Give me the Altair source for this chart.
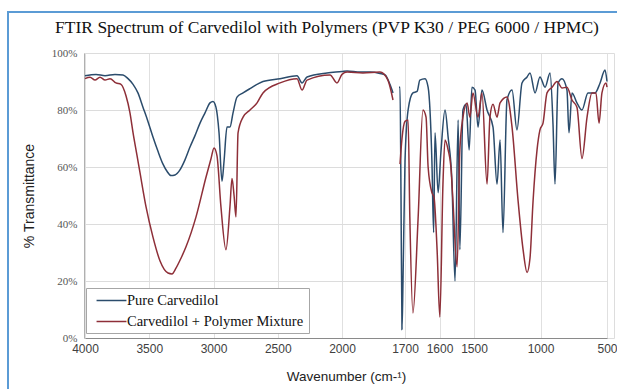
import altair as alt
import pandas as pd

PURE = "Pure Carvedilol"
MIX = "Carvedilol + Polymer Mixture"

# Left panel (4000 -> 1800 cm-1)
pure_left_wn = [4000, 3914, 3844, 3767, 3704, 3665, 3626, 3588, 3549, 3510, 3471, 3432, 3393, 3362, 3331,
                3300, 3261, 3222, 3183, 3144, 3105, 3066, 3027, 3004, 2981, 2957, 2934, 2918, 2895, 2872,
                2848, 2817, 2770, 2716, 2615, 2482, 2350, 2311, 2272, 2117, 2000, 1980, 1929, 1890, 1851,
                1831, 1812, 1800]
pure_left_t = [92, 92.5, 92, 92.5, 92.3, 91, 89, 86, 81, 76, 70.5, 65.5, 61, 58.5, 57,
               57.2, 59, 62.5, 67, 71, 75.4, 79, 82.5, 83, 81, 72, 55, 62, 74, 74,
               79, 84.5, 86, 87.5, 90, 91, 92, 89.5, 91.6, 93, 93.5, 93.7, 93.3, 93.3, 92.8,
               92.3, 89, 86]

mix_left_wn = [4000, 3961, 3922, 3883, 3844, 3805, 3759, 3720, 3681, 3650, 3626, 3595, 3572, 3525, 3471,
               3416, 3354, 3323, 3292, 3253, 3214, 3136, 3058, 3019, 2996, 2973, 2942, 2903, 2872, 2856,
               2840, 2825, 2809, 2770, 2716, 2661, 2615, 2482, 2350, 2311, 2272, 2093, 2039, 2000, 1980,
               1918, 1851, 1820, 1800]
mix_left_t = [91, 91.5, 90.5, 91.5, 90.5, 91, 89.5, 89, 85, 79, 72, 64, 58, 46, 35.4,
              27, 22.8, 22.5, 24.5, 28, 32, 42.5, 56.5, 63, 66.7, 64, 46, 31, 46, 56,
              50, 42.5, 72, 77.5, 80, 82.5, 86, 89.5, 91, 87, 90.5, 92.3, 89.5, 92.5, 93.3,
              93, 93.3, 90.5, 83.5]

# Right panel (1760 -> 500 cm-1)
pure_right_wn = [1760, 1750, 1740, 1730, 1720, 1700, 1691, 1677, 1665, 1657, 1642, 1633, 1622, 1617, 1613,
                 1604, 1596, 1584, 1575, 1564, 1555, 1546, 1541, 1532, 1523, 1514, 1506, 1492, 1470, 1440,
                 1402, 1357, 1327, 1304, 1282, 1252, 1214, 1177, 1139, 1101, 1079, 1041, 1004, 966, 928,
                 906, 891, 868, 838, 801, 786, 763, 726, 688, 643, 590, 552, 515, 500]
pure_right_t = [88, 88, 50, 3, 20, 62, 80, 86, 86.5, 90.5, 91, 88, 62, 37, 72,
                51, 65, 80, 70.5, 55, 20, 76.5, 31, 80, 82, 66, 88, 87, 74, 87,
                80, 74, 54, 69.5, 37, 83.5, 87, 73, 89.5, 91.6, 93, 86, 91.6, 88, 93,
                75, 54, 89.5, 91, 87, 72, 86, 82.5, 80, 86, 86, 89.5, 94, 90]

mix_right_wn = [1750, 1730, 1700, 1691, 1686, 1677, 1662, 1648, 1639, 1633, 1622, 1616, 1607, 1599, 1590,
                1584, 1575, 1567, 1561, 1549, 1541, 1532, 1520, 1512, 1503, 1470, 1440, 1402, 1380, 1357,
                1327, 1304, 1252, 1214, 1169, 1131, 1101, 1079, 1056, 1026, 1004, 981, 951, 913, 876,
                838, 801, 763, 726, 688, 650, 613, 583, 560, 538, 508, 500]
mix_right_t = [61, 70, 76, 76.5, 42.5, 8.8, 42, 80, 77.5, 60, 51, 49.5, 31, 7.4, 54,
               69.5, 66, 60, 48, 25, 66, 77.5, 82.5, 77.5, 86, 77.5, 86, 54, 77.5, 82,
               77.5, 82.5, 84.6, 74, 48.4, 31, 23, 28, 48, 66, 73, 75.4, 86, 88, 90,
               87.7, 88, 83.5, 81, 63, 77.5, 86, 86, 75.4, 86, 89.5, 88]

x_ticks = [4000, 3500, 3000, 2500, 2000, 1700, 1600, 1500, 1000, 500]
y_ticks = [0, 20, 40, 60, 80, 100]

rows = []
for wns, ts, s, seg in [(pure_left_wn, pure_left_t, PURE, "pL"), (pure_right_wn, pure_right_t, PURE, "pR"),
                        (mix_left_wn, mix_left_t, MIX, "mL"), (mix_right_wn, mix_right_t, MIX, "mR")]:
    for w, t in zip(wns, ts):
        rows.append({"wn": w, "t": t, "series": s, "seg": seg})
df = pd.DataFrame(rows)

x_scale = alt.Scale(domain=[4000, 2000, 1800, 1760, 1700, 1500, 500],
                    range=[1, 258, 309, 315, 321, 390, 523], nice=False, zero=False)

lines = alt.Chart(df).mark_line(strokeWidth=1.5, clip=True, interpolate="monotone").encode(
    x=alt.X("wn:Q", scale=x_scale,
            axis=alt.Axis(values=x_ticks, format="d", title="Wavenumber (cm-¹)",
                          labelFont="Liberation Sans", labelFontSize=12, labelColor="#404040",
                          labelPadding=5, ticks=False, domainColor="#8a8a8a", gridColor="#e0e0e0",
                          labelFlush=False,
                          titleFont="Liberation Sans", titleFontSize=13.5, titleFontWeight="normal",
                          titleColor="#222", titlePadding=15, labelOverlap=False)),
    y=alt.Y("t:Q", scale=alt.Scale(domain=[0, 100], nice=False),
            axis=alt.Axis(values=y_ticks, labelExpr="datum.value + '%'", title="% Transmittance",
                          labelFont="Liberation Serif", labelFontSize=11, labelColor="#555",
                          labelPadding=7, ticks=False, domainColor="#b0b0b0", gridColor="#dcdcdc",
                          titleFont="Liberation Sans", titleFontSize=14, titleFontWeight="normal",
                          titleColor="#222", titlePadding=15)),
    color=alt.Color("series:N",
                    scale=alt.Scale(domain=[PURE, MIX], range=["#2b4c6c", "#8e2f38"]),
                    legend=alt.Legend(orient="none", legendX=2, legendY=235, title=None,
                                      symbolType="M-2.3,0H2.3", symbolSize=169, symbolStrokeWidth=1.5,
                                      symbolOffset=13, labelOffset=8, labelLimit=400,
                                      labelFont="Liberation Serif", labelFontSize=14.5, labelColor="#111",
                                      fillColor="white", strokeColor="#a6a6a6", padding=5, rowPadding=6)),
    detail="seg:N",
    order=alt.Order("wn:Q"),
)

frame = alt.Chart(alt.Data(values=[{}])).mark_rect(filled=False, stroke="#5b9bd5", strokeWidth=2).encode(
    x=alt.value(-76), x2=alt.value(580), y=alt.value(-41), y2=alt.value(380)
)

chart = alt.layer(frame, lines).properties(
    width=530, height=285,
    title=alt.TitleParams(text="FTIR Spectrum of Carvedilol with Polymers (PVP K30 / PEG 6000 / HPMC)",
                          font="Liberation Serif", fontSize=17.5, fontWeight="normal", color="#111",
                          anchor="middle", offset=16, dx=-22, dy=41),
    autosize=alt.AutoSizeParams(type="none"),
    padding={"left": 84, "top": 53, "right": 3, "bottom": 51},
).configure_view(stroke=None).configure(background="white")

chart.save("out.html", embed_options={"renderer": "svg", "actions": False})
